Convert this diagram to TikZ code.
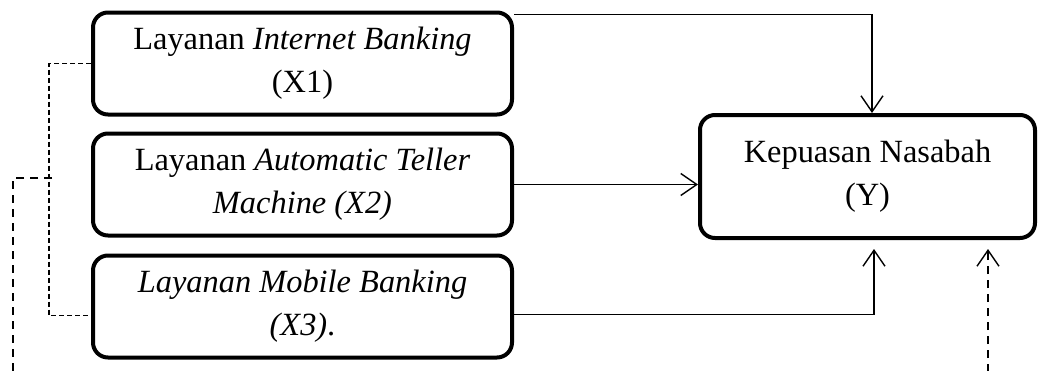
\documentclass[tikz,border=0pt]{standalone}
\usepackage{fontspec}
\setmainfont{Liberation Serif}
\usetikzlibrary{arrows.meta,positioning}

\begin{document}
\begin{tikzpicture}[
  x=0.5pt, y=-0.5pt,
  font=\fontsize{16.2}{21.5}\selectfont,
  box/.style={draw, line width=2pt, rounded corners=7.5pt, align=center,
              inner sep=2pt, minimum width=209.5pt, minimum height=51pt},
  arr/.style={-{Straight Barb[length=8pt,width=11pt]}, line width=0.7pt},
  brk/.style={line width=0.6pt, dash pattern=on 2.5pt off 1.5pt},
  lng/.style={line width=0.7pt, dash pattern=on 4pt off 3pt}
]
\useasboundingbox (0,0) rectangle (1040,370);
\node[box] (x1) at (302.5,63.5) {Layanan \textit{Internet Banking}\\ (X1)};
\node[box, below=7.5pt of x1] (x2) {Layanan \textit{Automatic Teller}\\ \textit{Machine (X2)}};
\node[box, below=8pt of x2] (x3) {\textit{Layanan Mobile Banking}\\ \textit{(X3)}.};
\node[box, minimum width=167.5pt, minimum height=61.5pt] (y) at (867.5,176.5)
      {Kepuasan Nasabah\\ (Y)};
\coordinate (jn) at (49,178);
\coordinate (lbot) at (13,372);
\coordinate (rbot) at (988,372);
\coordinate (rtip) at ([xshift=60.25pt,yshift=-4.5pt]y.south);
% panah ke Y
\draw[arr] ([yshift=-2pt]x1.north east) -| ([xshift=2.25pt]y.north);
\draw[arr] (x2.east) -- (x2.east -| y.west);
\draw[arr] ([yshift=-4pt]x3.east) -| ([xshift=3.25pt,yshift=-4.5pt]y.south);
\draw[lng, arr] (rbot) -- (rtip);
% garis putus-putus kiri
\draw[brk] (x1.west) -| (jn) |- ([yshift=-4.5pt]x3.west);
\draw[lng] ([xshift=1.5pt]jn) -| (lbot);
\end{tikzpicture}
\end{document}
